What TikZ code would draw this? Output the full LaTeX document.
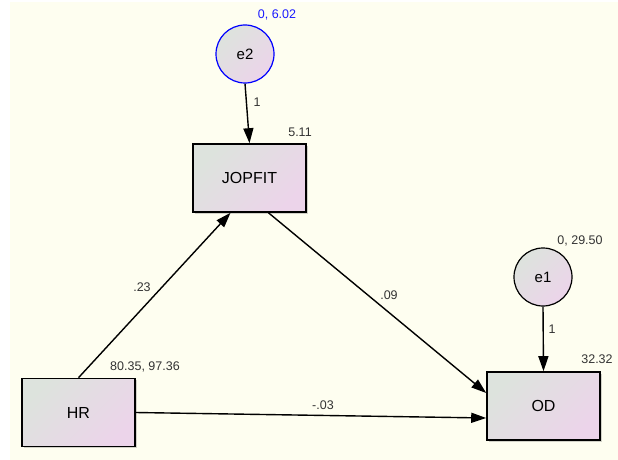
\documentclass[tikz,border=0pt]{standalone}
\usepackage{fontspec}
\setmainfont{Liberation Sans}
\usetikzlibrary{arrows.meta,shadows}
\definecolor{bgc}{HTML}{FEFEF0}
\definecolor{fillA}{HTML}{DDE3DD}
\definecolor{fillB}{HTML}{ECD4EA}
\definecolor{lbl}{HTML}{333333}
\definecolor{bluel}{HTML}{1A1AFF}
\tikzset{
  obsbox/.style={draw=black, line width=1.6pt, minimum width=113pt, minimum height=68pt, inner sep=0pt,
    top color=fillA, bottom color=fillB, shading angle=45,
    drop shadow={shadow xshift=1.5pt, shadow yshift=-1.5pt, opacity=0.35, fill=gray},
    font=\fontsize{16}{19}\selectfont},
  errc/.style={circle, draw=black, line width=1.2pt, minimum size=58pt, inner sep=0pt,
    top color=fillA, bottom color=fillB, shading angle=45,
    font=\fontsize{15}{18}\selectfont},
  arr/.style={-{Triangle[length=15pt,width=10pt]}, line width=1.4pt, draw=black},
  lab/.style={text=lbl, font=\fontsize{12.5}{15}\selectfont, inner sep=0pt}
}
\begin{document}
\begin{tikzpicture}[x=1pt,y=-1pt]
\useasboundingbox (0,0) rectangle (618,460);
\fill[white] (0,0) rectangle (618,460);
\fill[bgc] (10,2) rectangle (618,460);
% nodes
\node[errc, draw=blue] (e2) at (245,54) {e2};
\node[errc] (e1) at (543,277) {e1};
\node[obsbox] (jop) at (249.5,178) {JOPFIT};
\node[obsbox] (hr) at (78.5,412.5) {HR};
\node[obsbox] (od) at (543.5,406) {OD};
% connectors
\draw[arr] (e2.south) -- (jop.north);
\draw[arr] (e1.south) -- (od.north);
\draw[arr] (hr.north) -- ([xshift=-19pt]jop.south);
\draw[arr] ([xshift=19pt]jop.south) -- ([yshift=13pt]od.west);
\draw[arr] (hr.east) -- ([yshift=-12pt]od.west);
% labels
\node[lab, text=bluel] (l1) at (277,15) {0, 6.02};
\node[lab] (l2) at (257,102) {1};
\node[lab] (l3) at (300,132) {5.11};
\node[lab] (l4) at (580,241) {0, 29.50};
\node[lab] (l5) at (552,329) {1};
\node[lab] (l6) at (597,359) {32.32};
\node[lab] (l7) at (145,367) {80.35, 97.36};
\node[lab] (l8) at (142,287) {.23};
\node[lab] (l9) at (389,295) {.09};
\node[lab] (l10) at (323,405) {-.03};
\end{tikzpicture}
\end{document}
